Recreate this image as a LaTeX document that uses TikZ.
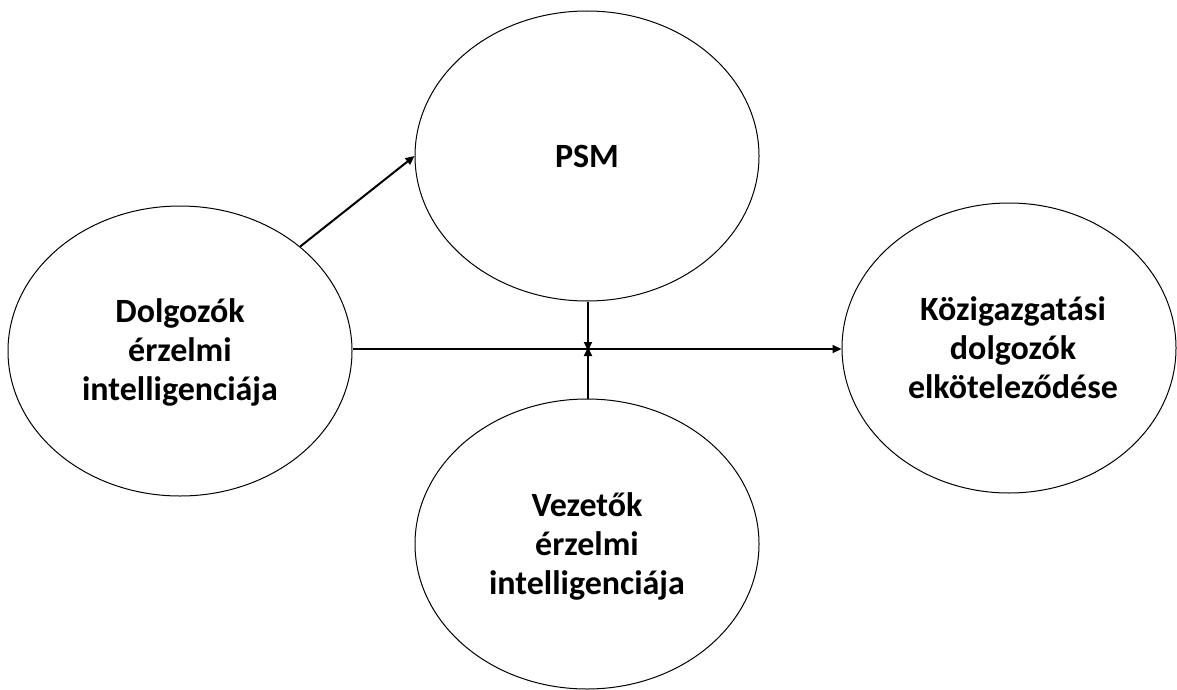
\documentclass[tikz,border=0pt]{standalone}
\usepackage{fontspec}
\setmainfont{Carlito}
\usetikzlibrary{shapes.geometric,arrows.meta}
\begin{document}
\begin{tikzpicture}[x=1pt,y=-1pt,
  construct/.style={ellipse,draw=black,line width=1pt,inner sep=0pt,
    minimum width=344pt,minimum height=290pt},
  lbl/.style={align=center,font=\fontsize{34}{39}\selectfont\bfseries},
  link/.style={line width=2pt,-{Triangle[length=9pt,width=8pt]}}]
\useasboundingbox (0,0) rectangle (1177,690);
\fill[white] (0,0) rectangle (1177,690);
% constructs
\node[construct] (dei) at (180,351) {};
\node[construct] (psm) at (587,156) {};
\node[construct,minimum width=334pt] (com) at (1009,348) {};
\node[construct] (lei) at (587,544) {};
% labels
\node[lbl] (deit) at (180,352) {Dolgozók\\érzelmi\\intelligenciája};
\node[lbl] (psmt) at (587,156) {PSM};
\node[lbl] (comt) at (1013,348) {Közigazgatási\\dolgozók\\elköteleződése};
\node[lbl] (leit) at (587,546) {Vezetők\\érzelmi\\intelligenciája};
% paths
\coordinate (mod) at (588,349);
\draw[link] (dei.east |- mod) -- (com.west |- mod);
\draw[link] (psm.south -| mod) -- ([yshift=-2pt]mod);
\draw[link] (lei.north -| mod) -- ([yshift=2pt]mod);
\draw[link] (dei.41) -- (psm.west);
\end{tikzpicture}
\end{document}
